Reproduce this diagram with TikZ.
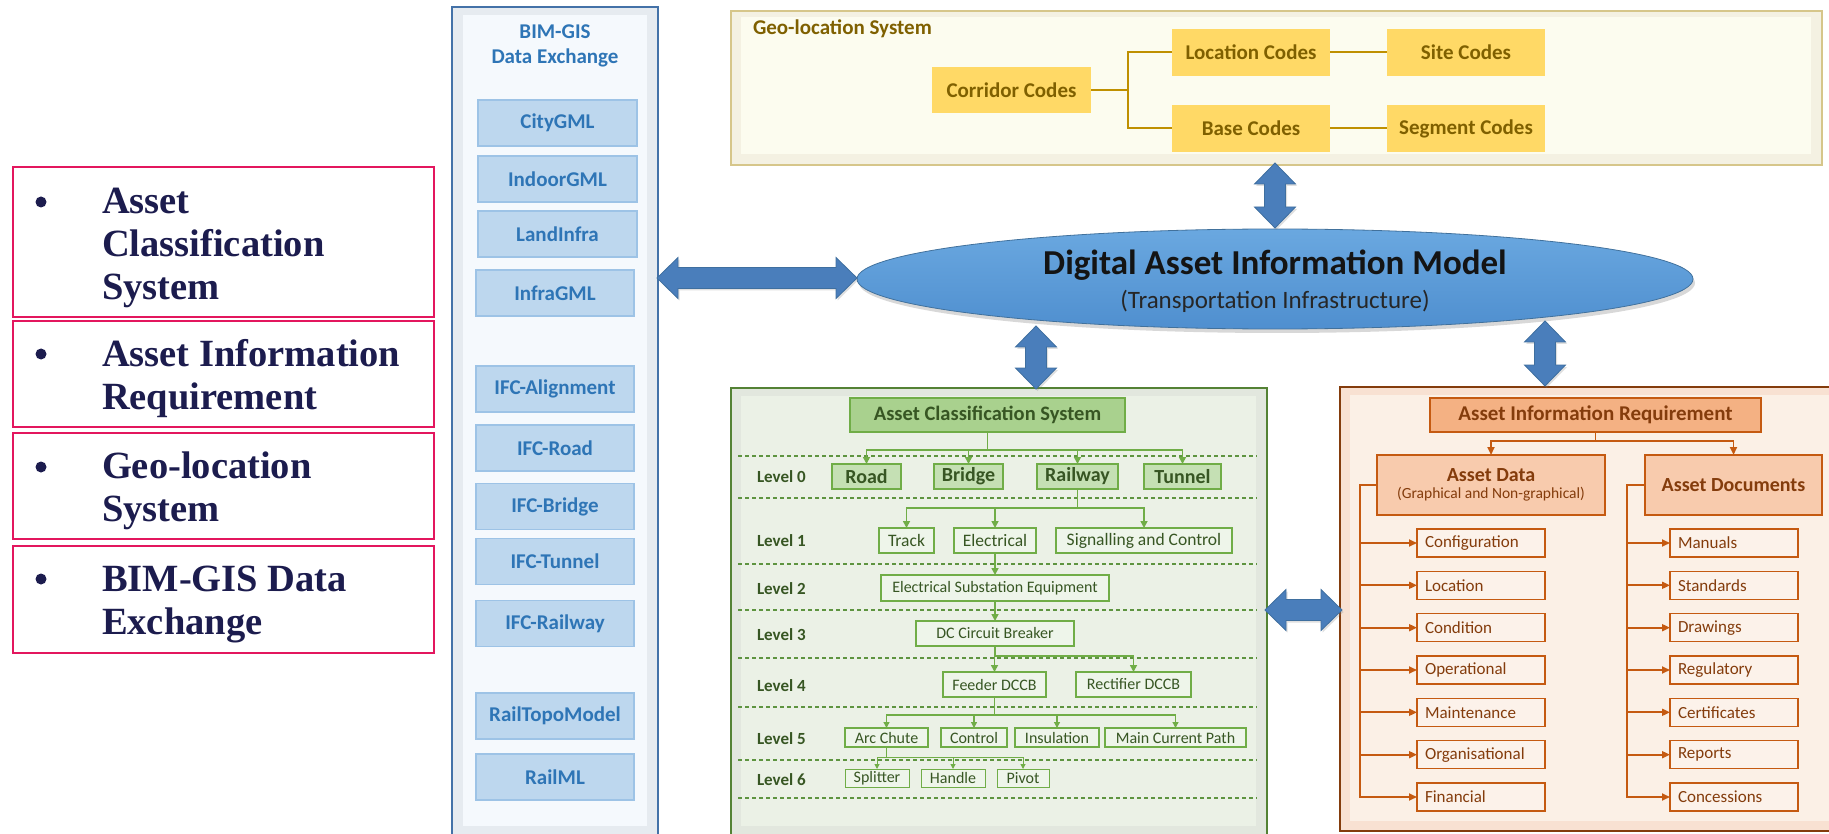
\documentclass[tikz,border=0pt]{standalone}
\usepackage{fontspec}
\setmainfont{Carlito}
\newfontfamily\lstfont{Liberation Serif}
\usetikzlibrary{arrows.meta,shapes.geometric,shadows,calc}
\definecolor{crimson}{HTML}{E3165E}
\definecolor{navy}{HTML}{1C1C4E}
\definecolor{bimborder}{HTML}{4472A8}
\definecolor{bimbevel}{HTML}{E6EBF0}
\definecolor{bimfill}{HTML}{F5F9FD}
\definecolor{bimbox}{HTML}{BDD7EE}
\definecolor{bimboxline}{HTML}{9DC3E6}
\definecolor{bimtext}{HTML}{2E75B6}
\definecolor{geoborder}{HTML}{D6C68A}
\definecolor{geobevel}{HTML}{F4F1E2}
\definecolor{geofill}{HTML}{FCFCEF}
\definecolor{geobox}{HTML}{FFD966}
\definecolor{geotext}{HTML}{7F6000}
\definecolor{geoline}{HTML}{BF9000}
\definecolor{blkfill}{HTML}{4A7EBB}
\definecolor{blkline}{HTML}{3F6F9F}
\definecolor{elltop}{HTML}{6AA8E0}
\definecolor{ellbot}{HTML}{4F8FCF}
\definecolor{ellline}{HTML}{41719C}
\definecolor{gborder}{HTML}{548235}
\definecolor{gbevel}{HTML}{E2E7DE}
\definecolor{gfill}{HTML}{EBF1E6}
\definecolor{gline}{HTML}{70AD47}
\definecolor{gacs}{HTML}{A9D18E}
\definecolor{glzero}{HTML}{C5E0B4}
\definecolor{gbox}{HTML}{EEF5EA}
\definecolor{gtext}{HTML}{375623}
\definecolor{gdash}{HTML}{5E9440}
\definecolor{oborder}{HTML}{843C0C}
\definecolor{obevel}{HTML}{F8E1D2}
\definecolor{ofill}{HTML}{FBF0E6}
\definecolor{oair}{HTML}{F4B183}
\definecolor{oad}{HTML}{F8CBAD}
\definecolor{oitem}{HTML}{FCF2EA}
\definecolor{oline}{HTML}{C55A11}
\definecolor{otext}{HTML}{843C0C}
\newcommand{\fsz}[2]{\fontsize{#1pt}{#2pt}\selectfont}
\newcommand{\hblk}[3]{%
  \filldraw[blk] (#1,#3) -- (#1+21,#3-20.5) -- (#1+21,#3-10.5) -- (#2-21,#3-10.5) -- (#2-21,#3-20.5) -- (#2,#3)
   -- (#2-21,#3+20.5) -- (#2-21,#3+10.5) -- (#1+21,#3+10.5) -- (#1+21,#3+20.5) -- cycle;}
\newcommand{\vblk}[3]{%
  \filldraw[blk] (#1,#2) -- (#1+20.5,#2+21) -- (#1+10.5,#2+21) -- (#1+10.5,#3-21) -- (#1+20.5,#3-21) -- (#1,#3)
   -- (#1-20.5,#3-21) -- (#1-10.5,#3-21) -- (#1-10.5,#2+21) -- (#1-20.5,#2+21) -- cycle;}
\begin{document}
\begin{tikzpicture}[x=1pt,y=-1pt,
  every node/.style={inner sep=0pt,outer sep=0pt},
  lbox/.style={draw=crimson,line width=2pt,minimum width=421pt},
  ltext/.style={font=\lstfont\bfseries\fsz{38.5}{43},text=navy,align=left,anchor=west},
  bullet/.style={circle,fill=navy,minimum size=11pt},
  bimitem/.style={draw=bimboxline,fill=bimbox,line width=1.2pt,minimum height=46pt,font=\bfseries\fsz{21}{25},text=bimtext},
  geobx/.style={fill=geobox,minimum width=158pt,minimum height=47pt,font=\bfseries\fsz{21}{25},text=geotext},
  geol/.style={draw=geoline,line width=2pt},
  blk/.style={fill=blkfill,draw=blkline,line width=0.8pt,drop shadow={opacity=0.25,shadow xshift=1.5pt,shadow yshift=-2pt}},
  gbx/.style={draw=gline,fill=gbox,line width=1.3pt,font=\fsz{16}{19},text=gtext},
  gzero/.style={draw=gline,fill=glzero,line width=1.5pt,minimum height=25pt,font=\bfseries\fsz{20}{24},text=gtext},
  glevel/.style={font=\bfseries\fsz{17}{20},text=gtext,anchor=west},
  garrow/.style={draw=gline,line width=1.6pt,-{Triangle[length=7pt,width=7pt]}},
  garrowthin/.style={draw=gline,line width=1pt,-{Triangle[length=5pt,width=5pt]}},
  gdashed/.style={draw=gdash,line width=1.2pt,dash pattern=on 4pt off 3pt},
  oarrow/.style={draw=oline,line width=1.8pt,-{Triangle[length=8pt,width=7pt]}},
  oitembox/.style={draw=oline,fill=oitem,line width=1.3pt,minimum width=128pt,minimum height=28pt,text width=112pt,inner xsep=8pt,align=left,font=\fsz{17}{20},text=otext},
]
\useasboundingbox (0,0) rectangle (1829,834);
\clip (0,0) rectangle (1829,834);
\fill[white] (0,0) rectangle (1829,834);

% ---------------- left list ----------------
\node[lbox,minimum height=150pt] (lb1) at (223.5,242) {};
\node[lbox,minimum height=106pt] (lb2) at (223.5,374) {};
\node[lbox,minimum height=106pt] (lb3) at (223.5,486) {};
\node[lbox,minimum height=107pt] (lb4) at (223.5,599.5) {};
\node[bullet] (bu1) at (41,202) {};
\node[bullet] (bu2) at (41,354) {};
\node[bullet] (bu3) at (41,467) {};
\node[bullet] (bu4) at (41,579) {};
\node[ltext] (lt1) at (102,248) {Asset\\Classification\\System};
\node[ltext] (lt2) at (102,379) {Asset Information\\Requirement};
\node[ltext] (lt3) at (102,491) {Geo-location\\System};
\node[ltext] (lt4) at (102,604) {BIM-GIS Data\\Exchange};

% ---------------- BIM-GIS panel ----------------
\node[draw=bimborder,fill=bimbevel,line width=1.3pt,minimum width=206pt,minimum height=840pt] (bim) at (555,427) {};
\node[fill=bimfill,minimum width=184pt,minimum height=811pt] (bimin) at (555,420.5) {};
\node[font=\bfseries\fsz{21}{25},text=bimtext,align=center] (bimtitle) at (555,46) {BIM-GIS\\Data Exchange};
\node[bimitem,minimum width=159pt] (citygml) at (557.5,123) {CityGML};
\node[bimitem,minimum width=159pt] (indoorgml) at (557.5,179) {IndoorGML};
\node[bimitem,minimum width=159pt] (landinfra) at (557.5,234) {LandInfra};
\node[bimitem,minimum width=158pt] (infragml) at (555,293) {InfraGML};
\node[bimitem,minimum width=158pt] (ifcalign) at (555,389) {IFC-Alignment};
\node[bimitem,minimum width=158pt] (ifcroad) at (555,448) {IFC-Road};
\node[bimitem,minimum width=158pt] (ifcbridge) at (555,506.5) {IFC-Bridge};
\node[bimitem,minimum width=158pt] (ifctunnel) at (555,561.5) {IFC-Tunnel};
\node[bimitem,minimum width=158pt] (ifcrail) at (555,623.5) {IFC-Railway};
\node[bimitem,minimum width=158pt] (railtopo) at (555,716) {RailTopoModel};
\node[bimitem,minimum width=158pt] (railml) at (555,777) {RailML};

% ---------------- Geo-location panel ----------------
\node[draw=geoborder,fill=geobevel,line width=1.5pt,minimum width=1091pt,minimum height=154pt] (geo) at (1276.5,88) {};
\node[fill=geofill,minimum width=1070pt,minimum height=137pt] (geoin) at (1276,85.5) {};
\node[font=\bfseries\fsz{21}{25},text=geotext,anchor=west] (geotitle) at (753,29) {Geo-location System};
\node[geobx,minimum width=159pt,minimum height=46pt] (corr) at (1011.5,90) {Corridor Codes};
\node[geobx] (loc) at (1251,52.5) {Location Codes};
\node[geobx] (site) at (1466,52.5) {Site Codes};
\node[geobx] (base) at (1251,128.5) {Base Codes};
\node[geobx] (seg) at (1466,128.5) {Segment Codes};
\draw[geol] (corr.east) -- ++(37,0) |- (loc.west);
\draw[geol] (corr.east) -- ++(37,0) |- (base.west);
\draw[geol] (loc.east) -- (site.west);
\draw[geol] (base.east) -- (seg.west);

% ---------------- Green panel ----------------
\node[draw=gborder,fill=gbevel,line width=1.3pt,minimum width=536pt,minimum height=460pt] (acspanel) at (999,618) {};
\node[fill=gfill,minimum width=515pt,minimum height=430pt] (acsin) at (998.5,611) {};
\foreach \yy in {456,498,564,610,658,707,760,798} \draw[gdashed] (738,\yy) -- (1257,\yy);
\node[glevel] (lv0) at (757,477) {Level 0};
\node[glevel] (lv1) at (757,541) {Level 1};
\node[glevel] (lv2) at (757,589) {Level 2};
\node[glevel] (lv3) at (757,635) {Level 3};
\node[glevel] (lv4) at (757,686) {Level 4};
\node[glevel] (lv5) at (757,739) {Level 5};
\node[glevel] (lv6) at (757,780) {Level 6};
\node[draw=gline,fill=gacs,line width=1.5pt,minimum width=275pt,minimum height=34pt,font=\bfseries\fsz{20.5}{24},text=gtext] (acs) at (987.5,415) {Asset Classification System};
\node[gzero,minimum width=69pt] (road) at (866.5,476.5) {Road};
\node[gzero,minimum width=69pt] (bridge) at (968.5,476.5) {Bridge};
\node[gzero,minimum width=81pt] (railway) at (1077.5,476.5) {Railway};
\node[gzero,minimum width=77pt] (tunnel) at (1182.5,476.5) {Tunnel};
\foreach \c in {road,bridge,railway,tunnel} \draw[garrow] (acs.south) -- (acs.south |- 0,450) -| (\c.north);
\node[gbx,font=\fsz{17.5}{20},minimum width=55pt,minimum height=25pt] (track) at (906.5,540.5) {Track};
\node[gbx,font=\fsz{17.5}{20},minimum width=82pt,minimum height=25pt] (elec) at (995,540.5) {Electrical};
\node[gbx,font=\fsz{17.5}{20},minimum width=176pt,minimum height=25pt] (signal) at (1144,540.5) {Signalling and Control};
\foreach \c in {track,elec,signal} \draw[garrow] (railway.south) -- (railway.south |- 0,508) -| (\c.north);
\node[gbx,minimum width=228pt,minimum height=26pt] (ese) at (995,588) {Electrical Substation Equipment};
\draw[garrow] (elec.south) -- (ese.north);
\node[gbx,minimum width=158pt,minimum height=25pt] (dccb) at (995,633.5) {DC Circuit Breaker};
\draw[garrow] (ese.south) -- (dccb.north);
\node[gbx,minimum width=103pt,minimum height=25pt] (feeder) at (994.5,684.5) {Feeder DCCB};
\node[gbx,minimum width=115pt,minimum height=25pt] (rectifier) at (1133.5,684.5) {Rectifier DCCB};
\foreach \c in {feeder,rectifier} \draw[garrow] (dccb.south) -- (dccb.south |- 0,656) -| (\c.north);
\node[gbx,minimum width=83pt,minimum height=19pt] (arc) at (886.5,737.5) {Arc Chute};
\node[gbx,minimum width=66pt,minimum height=19pt] (control) at (974,737.5) {Control};
\node[gbx,minimum width=84pt,minimum height=19pt] (insul) at (1057,737.5) {Insulation};
\node[gbx,minimum width=141pt,minimum height=19pt] (mcp) at (1175.5,737.5) {Main Current Path};
\foreach \c in {arc,control,insul,mcp} \draw[garrow,line width=1.3pt,-{Triangle[length=6pt,width=6pt]}] (feeder.south) -- (feeder.south |- 0,715) -| (\c.north);
\node[gbx,line width=1pt,minimum width=64pt,minimum height=18pt] (splitter) at (877,778) {Splitter};
\node[gbx,line width=1pt,minimum width=64pt,minimum height=18pt] (handle) at (953,778) {Handle};
\node[gbx,line width=1pt,minimum width=52pt,minimum height=18pt] (pivot) at (1023,778) {Pivot};
\foreach \c in {splitter,handle,pivot} \draw[garrowthin] (arc.south) -- (arc.south |- 0,757) -| (\c.north);

% ---------------- Orange panel ----------------
\node[draw=oborder,fill=obevel,line width=1.3pt,minimum width=495pt,minimum height=444pt] (airpanel) at (1587.5,609) {};
\node[fill=ofill,minimum width=485pt,minimum height=426pt] (airin) at (1592.5,608) {};
\node[draw=oline,fill=oair,line width=1.5pt,minimum width=331pt,minimum height=34pt,font=\bfseries\fsz{21}{25},text=otext] (air) at (1595.5,415) {Asset Information Requirement};
\node[draw=oline,fill=oad,line width=1.5pt,minimum width=228pt,minimum height=60pt,align=center,text=otext] (adata) at (1491,485) {{\bfseries\fsz{20}{22}Asset Data}\\[5pt]{\fsz{15.5}{18}(Graphical and Non-graphical)}};
\node[draw=oline,fill=oad,line width=1.5pt,minimum width=177pt,minimum height=60pt,font=\bfseries\fsz{20}{24},text=otext] (adocs) at (1733.5,485) {Asset Documents};
\foreach \c in {adata,adocs} \draw[oarrow] (air.south) -- (air.south |- 0,441) -| (\c.north);
\node[oitembox] (conf) at (1481,543) {Configuration};
\node[oitembox] (location) at (1481,585.3) {Location};
\node[oitembox] (cond) at (1481,627.7) {Condition};
\node[oitembox] (oper) at (1481,670) {Operational};
\node[oitembox] (maint) at (1481,712.3) {Maintenance};
\node[oitembox] (organ) at (1481,754.7) {Organisational};
\node[oitembox] (fin) at (1481,797) {Financial};
\foreach \c in {conf,location,cond,oper,maint,organ,fin} \draw[oarrow] (adata.west) -- ++(-17,0) |- (\c.west);
\node[oitembox] (manuals) at (1734,543) {Manuals};
\node[oitembox] (standards) at (1734,585.3) {Standards};
\node[oitembox] (drawings) at (1734,627.7) {Drawings};
\node[oitembox] (regul) at (1734,670) {Regulatory};
\node[oitembox] (certs) at (1734,712.3) {Certificates};
\node[oitembox] (reports) at (1734,754.7) {Reports};
\node[oitembox] (conc) at (1734,797) {Concessions};
\foreach \c in {manuals,standards,drawings,regul,certs,reports,conc} \draw[oarrow] (adocs.west) -- ++(-18,0) |- (\c.west);

% ---------------- central ellipse ----------------
\node[ellipse,draw=ellline,line width=0.8pt,top color=elltop,bottom color=ellbot,minimum width=836pt,minimum height=100pt,
  drop shadow={opacity=0.3,shadow xshift=2pt,shadow yshift=-4pt}] (daim) at (1275,279) {};
\node[font=\bfseries\fsz{35}{40},text=black!92] (daimtitle) at (1275,265) {Digital Asset Information Model};
\node[font=\fsz{25}{30},text=black!85] (daimsub) at (1275,301) {(Transportation Infrastructure)};

% ---------------- block arrows ----------------
\hblk{657}{857}{278}
\vblk{1275}{163}{228}
\vblk{1036}{326}{389}
\vblk{1545}{321}{386}
\hblk{1265}{1342}{610}
\end{tikzpicture}
\end{document}
